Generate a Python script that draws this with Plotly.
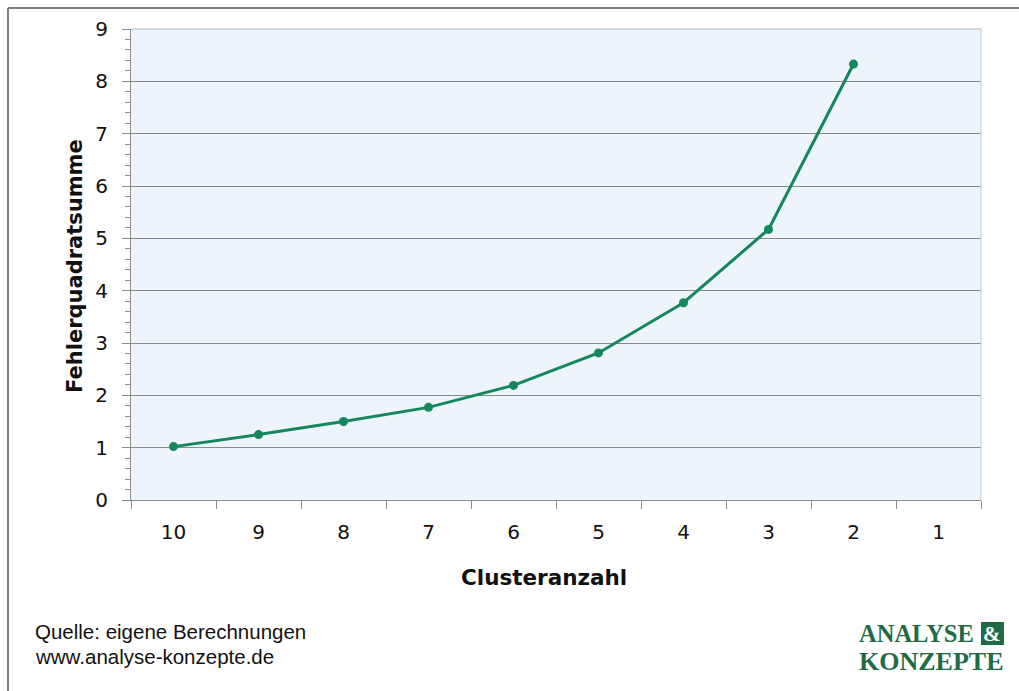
import plotly.graph_objects as go

# Elbow chart: sum of squared errors by number of clusters
clusters = ["10", "9", "8", "7", "6", "5", "4", "3", "2", "1"]
sse = [1.02, 1.25, 1.50, 1.77, 2.19, 2.81, 3.77, 5.17, 8.33, None]
y_ticks = [0, 1, 2, 3, 4, 5, 6, 7, 8, 9]

W, H = 1019, 691
L, R, T, B = 131, 981, 29, 500  # plot area in pixels


def px(x):
    return (x - L) / (R - L)


def py(y):
    return (B - y) / (B - T)


green = "#14875f"
axis_gray = "#8c8c8c"

fig = go.Figure()
fig.add_trace(go.Scatter(
    x=clusters, y=sse, mode="lines+markers",
    line=dict(color=green, width=3),
    marker=dict(color=green, size=9),
    hoverinfo="x+y", showlegend=False,
))

fig.update_layout(
    width=W, height=H,
    margin=dict(l=L, r=W - R, t=T, b=H - B),
    paper_bgcolor="white",
    plot_bgcolor="#edf4fb",
    font=dict(family="DejaVu Sans", size=20, color="#111111"),
    xaxis=dict(
        type="category", categoryorder="array", categoryarray=clusters,
        range=[-0.5, 9.5], tickson="boundaries",
        ticks="outside", ticklen=8, tickcolor=axis_gray, tickwidth=1,
        ticklabelstandoff=14,
        showline=True, linecolor=axis_gray, linewidth=1,
        showgrid=False, zeroline=False, fixedrange=True,
        tickfont=dict(size=20),
    ),
    yaxis=dict(
        range=[0, 9], tickvals=y_ticks,
        ticks="outside", ticklen=8, tickcolor=axis_gray, tickwidth=1,
        ticklabelstandoff=10,
        minor=dict(dtick=0.2, ticks="outside", ticklen=5, tickcolor=axis_gray, showgrid=False),
        showline=True, linecolor=axis_gray, linewidth=1,
        showgrid=True, gridcolor="#8a8a8a", gridwidth=1,
        zeroline=False, fixedrange=True,
        tickfont=dict(size=20),
    ),
)

shapes = [
    # thin frame on the right and top of the plot area
    dict(type="line", xref="paper", yref="paper", x0=1, x1=1, y0=0, y1=1,
         line=dict(color="#c8ccd2", width=1)),
    dict(type="line", xref="paper", yref="paper", x0=0, x1=1, y0=1, y1=1,
         line=dict(color="#b0b4ba", width=1)),
    # outer chart border (left and top edges)
    dict(type="line", xref="paper", yref="paper", x0=px(8), x1=px(8), y0=py(H + 5), y1=py(8),
         line=dict(color="#808080", width=2)),
    dict(type="line", xref="paper", yref="paper", x0=px(8), x1=px(W + 5), y0=py(8), y1=py(8),
         line=dict(color="#808080", width=2)),
    # badge behind the ampersand of the logo
    dict(type="rect", xref="paper", yref="paper", x0=px(981), x1=px(1004), y0=py(645), y1=py(622),
         fillcolor="#1f6b45", line=dict(width=0)),
]

annotations = [
    dict(text="<b>Fehlerquadratsumme</b>", x=px(75), y=py(266), xref="paper", yref="paper",
         textangle=-90, showarrow=False, font=dict(size=21, family="DejaVu Sans", color="#111111"),
         xanchor="center", yanchor="middle"),
    dict(text="<b>Clusteranzahl</b>", x=px(544), y=py(577), xref="paper", yref="paper",
         showarrow=False, font=dict(size=21.5, family="DejaVu Sans", color="#111111"),
         xanchor="center", yanchor="middle"),
    dict(text="Quelle: eigene Berechnungen", x=px(33), y=py(631), xref="paper", yref="paper",
         showarrow=False, font=dict(size=20.5, family="Liberation Sans", color="#111111"),
         xanchor="left", yanchor="middle"),
    dict(text="www.analyse-konzepte.de", x=px(33), y=py(656), xref="paper", yref="paper",
         showarrow=False, font=dict(size=20.5, family="Liberation Sans", color="#111111"),
         xanchor="left", yanchor="middle"),
    dict(text="<b>ANALYSE</b>", x=px(857), y=py(633), xref="paper", yref="paper",
         showarrow=False, font=dict(size=24.5, family="Liberation Serif", color="#1f6b45"),
         xanchor="left", yanchor="middle"),
    dict(text="<b>&amp;</b>", x=px(992.5), y=py(634), xref="paper", yref="paper",
         showarrow=False, font=dict(size=21, family="Liberation Serif", color="white"),
         xanchor="center", yanchor="middle"),
    dict(text="<b>KONZEPTE</b>", x=px(857), y=py(661), xref="paper", yref="paper",
         showarrow=False, font=dict(size=26, family="Liberation Serif", color="#1f6b45"),
         xanchor="left", yanchor="middle"),
]

fig.update_layout(shapes=shapes, annotations=annotations)
fig.write_html("out.html")
